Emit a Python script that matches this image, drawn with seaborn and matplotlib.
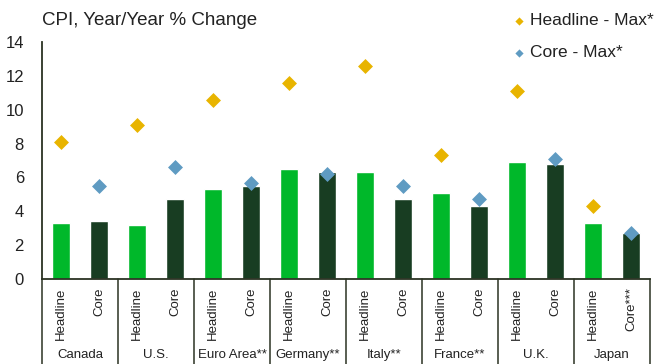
import numpy as np
import pandas as pd
import matplotlib
matplotlib.use("Agg")
import matplotlib.pyplot as plt
import matplotlib.transforms as mtransforms
import seaborn as sns

countries = ["Canada", "U.S.", "Euro Area**", "Germany**", "Italy**", "France**", "U.K.", "Japan"]
headline = [3.3, 3.2, 5.3, 6.5, 6.3, 5.1, 6.9, 3.3]
core = [3.4, 4.7, 5.5, 6.3, 4.7, 4.3, 6.8, 2.7]
headline_max = [8.1, 9.1, 10.6, 11.6, 12.6, 7.3, 11.1, 4.3]
core_max = [5.5, 6.6, 5.7, 6.2, 5.5, 4.7, 7.1, 2.7]
bar_labels = [("Headline", "Core")] * 7 + [("Headline", "Core***")]

sns.set_theme(style="white")
plt.rcParams["font.family"] = ["Liberation Sans", "DejaVu Sans"]

df = pd.DataFrame({
    "country": countries * 2,
    "type": ["Headline"] * len(countries) + ["Core"] * len(countries),
    "value": headline + core,
})

fig = plt.figure(figsize=(6.54, 3.64), dpi=100)
ax = fig.add_axes([0.0642, 0.2335, 0.9297, 0.6511])

sns.barplot(data=df, x="country", y="value", hue="type", order=countries,
            hue_order=["Headline", "Core"],
            palette={"Headline": "#00B82A", "Core": "#183D22"},
            width=1.0, gap=0.52, ax=ax, legend=False, saturation=1)

idx = np.arange(len(countries))
ax.scatter(idx - 0.25, headline_max, marker="D", s=58, color="#E8B400", zorder=5,
           label="Headline - Max*", linewidths=0)
ax.scatter(idx + 0.25, core_max, marker="D", s=58, color="#5F9BC2", zorder=5,
           label="Core - Max*", linewidths=0)

ax.set_xlim(-0.5, len(countries) - 0.5)
ax.set_ylim(0, 14)
ax.set_yticks(range(0, 15, 2))
ax.tick_params(axis="y", labelsize=12, colors="#222222", length=0, pad=13)
ax.set_xticks([])
ax.set_xlabel("")
ax.set_ylabel("")
for s in ["top", "right"]:
    ax.spines[s].set_visible(False)
for s in ["left", "bottom"]:
    ax.spines[s].set_color("#2B3323")
    ax.spines[s].set_linewidth(1.3)

# category table below axis
trans = mtransforms.blended_transform_factory(ax.transData, ax.transAxes)
y_bottom = -0.36
for xb in np.arange(-0.5, len(countries), 1.0):
    ax.plot([xb, xb], [0, y_bottom], transform=trans, color="#2B3323",
            lw=1.1, clip_on=False)
for i, (c, (l1, l2)) in enumerate(zip(countries, bar_labels)):
    ax.text(i - 0.25, -0.035, l1, transform=trans, rotation=90, ha="center",
            va="top", fontsize=9.5, color="#222222")
    ax.text(i + 0.25, -0.035, l2, transform=trans, rotation=90, ha="center",
            va="top", fontsize=9.5, color="#222222")
    ax.text(i, -0.322, c, transform=trans, ha="center", va="center",
            fontsize=9.5, color="#222222")

fig.text(0.0642, 0.945, "CPI, Year/Year % Change", fontsize=13.5, color="#222222",
         ha="left", va="center")

leg = fig.legend(*ax.get_legend_handles_labels(), loc="upper right",
                 bbox_to_anchor=(1.015, 0.992), frameon=False,
                 fontsize=12.5, handletextpad=0.1, labelspacing=0.95,
                 markerscale=0.55, handlelength=1.0, borderaxespad=0.2)
for t in leg.get_texts():
    t.set_color("#222222")

fig.savefig("out.png", dpi=100)
